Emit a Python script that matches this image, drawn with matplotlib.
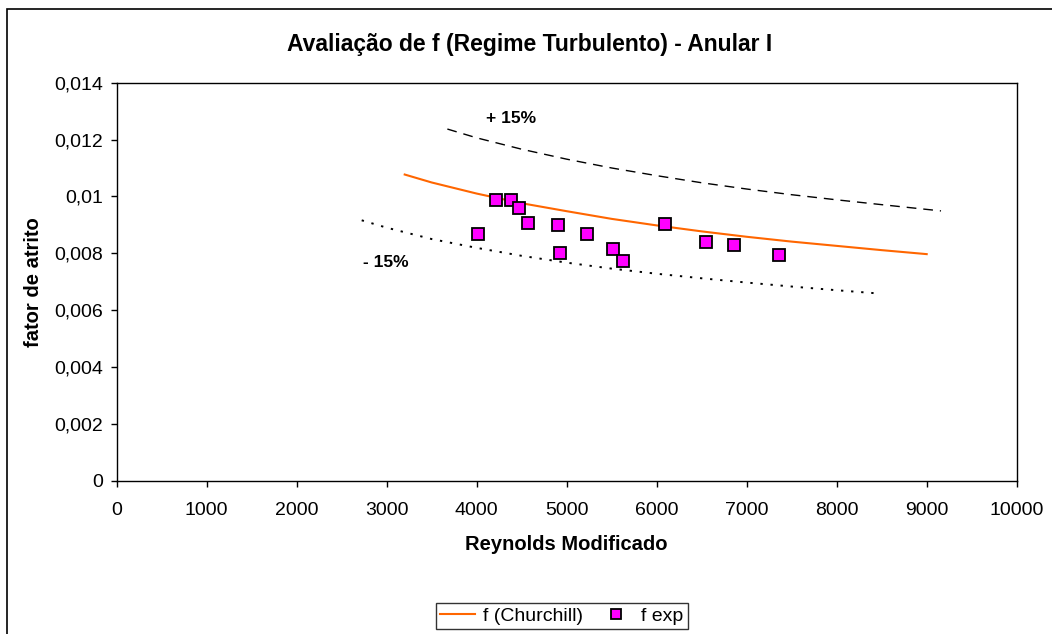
import matplotlib
matplotlib.use("Agg")
import matplotlib.pyplot as plt
from matplotlib.patches import Rectangle
from matplotlib.ticker import FuncFormatter, MultipleLocator

plt.rcParams['font.family'] = ['Liberation Sans', 'DejaVu Sans']

# Experimental points
re_exp = [4012, 4216, 4379, 4468, 4568, 4905, 4920, 5221, 5514, 5628, 6096, 6548, 6860, 7360]
f_exp = [0.00869, 0.00986, 0.00986, 0.00959, 0.00906, 0.00899, 0.00801, 0.00867,
         0.00816, 0.00774, 0.00903, 0.00839, 0.00829, 0.00795]

# Churchill curve
re_ch = [3200, 3500, 4000, 4500, 5000, 5500, 6000, 6500, 7000, 7500, 8000, 8500, 9000]
f_ch = [0.01077, 0.01049, 0.01010, 0.00976, 0.00948, 0.00921, 0.00898, 0.00877,
        0.00858, 0.00841, 0.00826, 0.00811, 0.00797]

# +15 % curve
re_up = [3674, 4000, 4500, 5000, 5500, 6000, 6500, 7000, 7500, 8000, 8500, 9159]
f_up = [0.01237, 0.01206, 0.01166, 0.01131, 0.01100, 0.01073, 0.01048, 0.01026,
        0.01006, 0.00988, 0.00971, 0.00949]

# -15 % curve
re_dn = [2722, 3000, 3500, 4000, 4500, 5000, 5500, 6000, 6500, 7000, 7500, 8000, 8489]
f_dn = [0.00916, 0.00890, 0.00850, 0.00819, 0.00791, 0.00767, 0.00746, 0.00728,
        0.00712, 0.00697, 0.00683, 0.00670, 0.00658]

fig = plt.figure(figsize=(10.52, 6.34), dpi=100)
ax = fig.add_axes([116.7 / 1052, 1 - 480.7 / 634, 900 / 1052, 398 / 634])

ax.plot(re_ch, f_ch, color='#FF6600', lw=1.5, label='f (Churchill)', zorder=3)
ax.plot(re_up, f_up, color='black', lw=1.0, dashes=(7, 5), zorder=2)
ax.plot(re_dn, f_dn, color='black', lw=1.4, dashes=(1.2, 4.0), zorder=2)
ax.plot(re_exp, f_exp, linestyle='none', marker='s', markersize=8.5,
        markerfacecolor='#FF00FF', markeredgecolor='black', markeredgewidth=1.3,
        label='f exp', zorder=4)

ax.set_xlim(0, 10000)
ax.set_ylim(0, 0.014)
ax.xaxis.set_major_locator(MultipleLocator(1000))
ax.yaxis.set_major_locator(MultipleLocator(0.002))


def yfmt(v, pos):
    if abs(v) < 1e-12:
        return '0'
    s = ('%.3f' % v).rstrip('0')
    return s.replace('.', ',')


ax.yaxis.set_major_formatter(FuncFormatter(yfmt))
ax.xaxis.set_major_formatter(FuncFormatter(lambda v, p: '%d' % round(v)))
ax.tick_params(axis='both', direction='out', length=4, width=1, labelsize=14,
               colors='black')
ax.tick_params(axis='x', pad=11)
ax.tick_params(axis='y', pad=6)
for sp in ax.spines.values():
    sp.set_linewidth(1.0)
    sp.set_color('black')

ax.set_xlabel('Reynolds Modificado', fontsize=14.5, fontweight='bold', labelpad=12)
ax.set_ylabel('fator de atrito', fontsize=14.5, fontweight='bold', labelpad=8)

fig.text(0.503, 1 - 44 / 634, 'Avaliação de f (Regime Turbulento) - Anular I',
         ha='center', va='center', fontsize=16.5, fontweight='bold')

ax.text(4100, 0.01275, '+ 15%', fontsize=12.5, fontweight='bold', ha='left', va='center')
ax.text(2740, 0.00766, '- 15%', fontsize=12.5, fontweight='bold', ha='left', va='center')

leg = fig.legend(loc='center', bbox_to_anchor=(562 / 1052, 1 - 616 / 634), ncol=2,
                 fontsize=14, frameon=True, fancybox=False, edgecolor='black',
                 handlelength=1.8, handletextpad=0.4, columnspacing=0.8,
                 borderpad=0.2, borderaxespad=0, markerscale=0.8)
leg.get_frame().set_linewidth(1.0)

fig.patches.append(Rectangle((7 / 1052, -0.1), 1.2, 1.1 - 9 / 634,
                             transform=fig.transFigure, fill=False,
                             edgecolor='black', lw=1.2))

fig.savefig('out.png', dpi=100)
